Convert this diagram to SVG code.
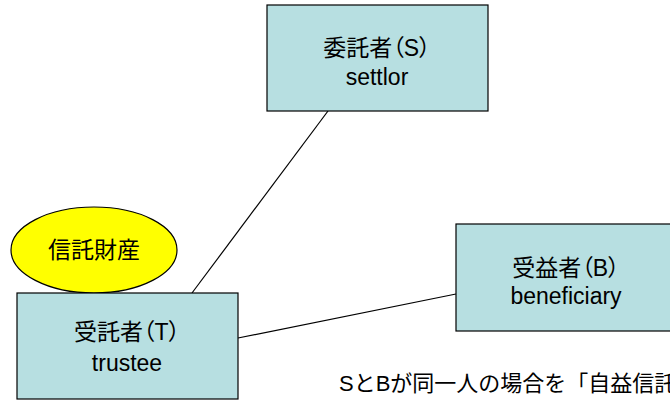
<svg xmlns="http://www.w3.org/2000/svg" width="670" height="400" viewBox="0 0 670 400">
<style>
.box{fill:#b7dfe1;stroke:#000;stroke-width:1.2}
.t{font-family:"Liberation Sans","Noto Sans CJK JP",sans-serif;font-size:23px;fill:#000;text-anchor:middle}
.p{font-feature-settings:"palt"}
.c{stroke:#000;stroke-width:1.2;fill:none}
</style>
<rect width="670" height="400" fill="#fff"/>
<g id="connectors">
<line class="c" x1="328" y1="111" x2="192" y2="293"/>
<line class="c" x1="238" y1="338" x2="456" y2="294"/>
</g>
<g id="settlor">
<rect class="box" x="267" y="5" width="221" height="106"/>
<text class="t p" x="377" y="56">委託者（S）</text>
<text class="t" x="377" y="85">settlor</text>
</g>
<g id="property">
<ellipse cx="94" cy="250" rx="83" ry="43" fill="#ffff00" stroke="#000" stroke-width="1.2"/>
<text class="t" x="94" y="258">信託財産</text>
</g>
<g id="trustee">
<rect class="box" x="17" y="293" width="221" height="106"/>
<text class="t p" x="127" y="340">受託者（T）</text>
<text class="t" x="127" y="371">trustee</text>
</g>
<g id="beneficiary">
<rect class="box" x="456" y="224" width="221" height="107"/>
<text class="t p" x="566" y="276">受益者（B）</text>
<text class="t" x="566" y="304">beneficiary</text>
</g>
<text class="t" x="339" y="391" style="text-anchor:start;font-size:22px">SとBが同一人の場合を「自益信託」</text>
</svg>
